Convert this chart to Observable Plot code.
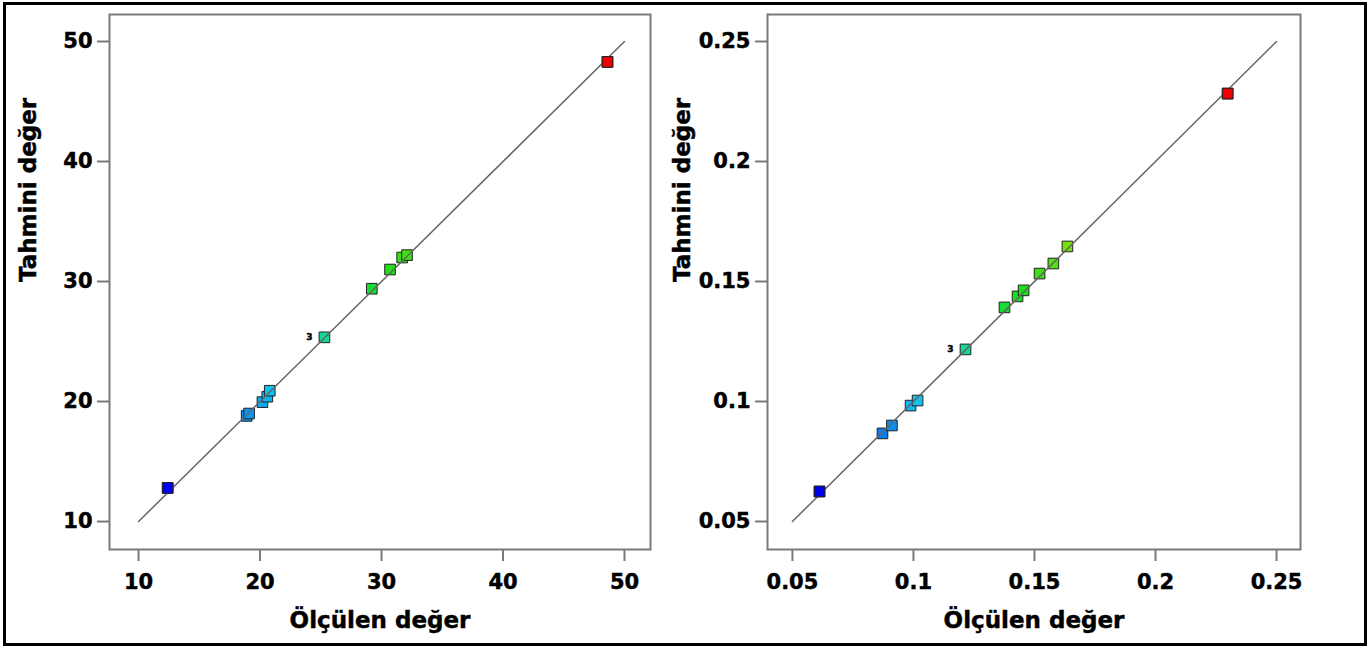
<!DOCTYPE html>
<html><head><meta charset="utf-8">
<script src="https://cdn.jsdelivr.net/npm/d3@7"></script>
<script src="https://cdn.jsdelivr.net/npm/@observablehq/plot@0.6"></script>
<style>
html,body{margin:0;padding:0;background:#fff;}
#wrap{position:relative;width:1370px;height:648px;overflow:hidden;background:#fff;}
#border{position:absolute;left:3px;top:2px;width:1364px;height:644px;border:3px solid #000;box-sizing:border-box;pointer-events:none;z-index:2}
#left{position:absolute;left:0;top:0}
#right{position:absolute;left:660px;top:0}
svg text{stroke:#000;stroke-width:0.45px;paint-order:stroke;}
</style></head><body>
<div id="wrap"><div id="left"></div><div id="right"></div><div id="border"></div></div>
<script>
// Left panel data
const measured1  = [12.4, 18.9, 19.1, 20.2, 20.6, 20.8, 25.3, 29.2, 30.7, 31.7, 32.1, 48.6];
const predicted1 = [12.8, 18.8, 19.0, 19.95, 20.4, 20.9, 25.35, 29.4, 31.0, 32.0, 32.2, 48.3];
const labels1    = ["", "", "", "", "", "", "3", "", "", "", "", ""];
const ticks1 = [10, 20, 30, 40, 50];
const line1 = [10, 50];

// Right panel data
const measured2  = [0.0612, 0.0872, 0.0911, 0.0988, 0.1017, 0.1215, 0.1376, 0.1430, 0.1455, 0.1521, 0.1578, 0.1636, 0.2298];
const predicted2 = [0.0625, 0.0867, 0.0900, 0.0983, 0.1004, 0.1217, 0.1392, 0.1438, 0.1463, 0.1533, 0.1575, 0.1646, 0.2283];
const labels2    = ["", "", "", "", "", "3", "", "", "", "", "", "", ""];
const ticks2 = [0.05, 0.1, 0.15, 0.2, 0.25];
const line2 = [0.05, 0.25];

const xTitle = "Ölçülen değer";
const yTitle = "Tahmini değer";
const palette = ["#0000f0", "#10d4f0", "#18e018", "#e0e000", "#f00000"];

function panel({measured, predicted, labels, ticks, lineEnds, xDomain, yDomain, width, marginLeft, marginRight, yTitleDx}) {
  const rows = measured.map((m, i) => ({m, p: predicted[i], label: labels[i]}));
  const [lo, hi] = d3.extent(predicted);
  const stops = [0, 0.25, 0.5, 0.75, 1].map(t => lo + t * (hi - lo));
  const extremes = rows.filter(d => d.p === lo || d.p === hi);
  const fmt = d => String(d);
  return Plot.plot({
    width, height: 648,
    marginTop: 14, marginBottom: 99, marginLeft, marginRight,
    style: {fontFamily: "DejaVu Sans", fontWeight: "bold", fontSize: "21px", color: "black", background: "white"},
    x: {domain: xDomain},
    y: {domain: yDomain},
    color: {type: "linear", domain: stops, range: palette},
    marks: [
      Plot.axisX({ticks, tickSize: 12, tickPadding: 13, tickFormat: fmt, stroke: "#7a7a7a", strokeWidth: 2, fill: "black", label: null, fontSize: 21, fontWeight: "bold"}),
      Plot.axisY({ticks, tickSize: 12, tickPadding: 5, tickFormat: fmt, stroke: "#7a7a7a", strokeWidth: 2, fill: "black", label: null, fontSize: 21, fontWeight: "bold"}),
      Plot.frame({stroke: "#7a7a7a", strokeWidth: 2}),
      Plot.dot(rows, {x: "m", y: "p", fill: "p", symbol: "square", r: 6, stroke: "#222", strokeWidth: 1}),
      Plot.line(lineEnds, {x: d => d, y: d => d, stroke: "#666", strokeWidth: 1.5}),
      Plot.dot(extremes, {x: "m", y: "p", fill: "p", symbol: "square", r: 6, stroke: "#222", strokeWidth: 1}),
      Plot.text(rows, {x: "m", y: "p", text: "label", dx: -15, fontSize: 9, fontWeight: "bold", fill: "black"}),
      Plot.text([xTitle], {frameAnchor: "bottom", dy: 71, text: d => d, fontSize: 23, fontWeight: "bold", fill: "black", lineAnchor: "middle"}),
      Plot.text([yTitle], {frameAnchor: "left", dx: yTitleDx, rotate: -90, text: d => d, fontSize: 23, fontWeight: "bold", fill: "black", lineAnchor: "middle"})
    ]
  });
}

document.getElementById("left").appendChild(panel({
  measured: measured1, predicted: predicted1, labels: labels1, ticks: ticks1, lineEnds: line1,
  xDomain: [7.61, 52.14], yDomain: [7.67, 52.25],
  width: 660, marginLeft: 109, marginRight: 10, yTitleDx: -81
}));
document.getElementById("right").appendChild(panel({
  measured: measured2, predicted: predicted2, labels: labels2, ticks: ticks2, lineEnds: line2,
  xDomain: [0.0397, 0.2599], yDomain: [0.03833, 0.26125],
  width: 710, marginLeft: 107, marginRight: 70, yTitleDx: -85
}));
</script>
</body></html>
